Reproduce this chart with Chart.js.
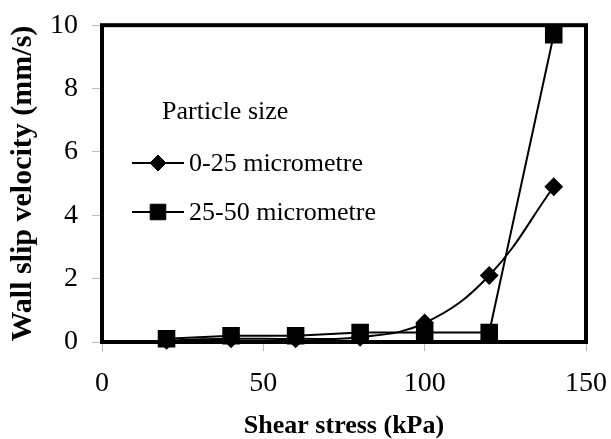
<!DOCTYPE html>
<html>
<head>
<meta charset="utf-8">
<script src="https://cdn.jsdelivr.net/npm/chart.js@4/dist/chart.umd.min.js"></script>
<style>
  html, body { margin: 0; padding: 0; background: #fff; }
  #wrap { width: 611px; height: 439px; }
</style>
</head>
<body>
<div id="wrap"><canvas id="c" width="611" height="439"></canvas></div>
<script>
// Shear stress (kPa) at which wall slip was measured
const shearStress = [20, 40, 60, 80, 100, 120, 140];
// Wall slip velocity (mm/s) for each particle size fraction
const slipFine   = [0.05, 0.1, 0.1, 0.15, 0.6, 2.1, 4.9];   // 0-25 micrometre
const slipCoarse = [0.1, 0.2, 0.2, 0.3, 0.3, 0.3, 9.7];     // 25-50 micrometre
const seriesLabels = ['0-25 micrometre', '25-50 micrometre'];
const legendTitle = 'Particle size';
const xTicks = [0, 50, 100, 150];
const yTicks = [0, 2, 4, 6, 8, 10];

const SERIF = '"Liberation Serif", "Times New Roman", serif';

const toPoints = (xs, ys) => xs.map((x, i) => ({ x, y: ys[i] }));

// Thick black box around the plotting area
const frame = {
  id: 'frame',
  beforeDatasetsDraw(chart) {
    const { ctx, chartArea: a } = chart;
    ctx.save();
    ctx.strokeStyle = '#000';
    ctx.lineWidth = 4;
    ctx.strokeRect(a.left, a.top, a.right - a.left, a.bottom - a.top);
    ctx.restore();
  }
};

// Legend drawn inside the plot, with a heading line
const innerLegend = {
  id: 'innerLegend',
  afterDatasetsDraw(chart) {
    const { ctx } = chart;
    ctx.save();
    ctx.fillStyle = '#000';
    ctx.textBaseline = 'middle';
    ctx.font = '26px ' + SERIF;
    ctx.fillText(legendTitle, 162, 112);
    const rows = [163, 212];
    chart.data.datasets.forEach((ds, i) => {
      const y = rows[i];
      ctx.strokeStyle = ds.borderColor;
      ctx.lineWidth = ds.borderWidth;
      ctx.beginPath();
      ctx.moveTo(132, y);
      ctx.lineTo(184, y);
      ctx.stroke();
      ctx.fillStyle = ds.pointBackgroundColor;
      ctx.lineWidth = 1;
      Chart.helpers.drawPoint(ctx, {
        pointStyle: ds.pointStyle,
        radius: ds.pointRadius,
        borderWidth: 1,
        rotation: 0
      }, 158, y);
      ctx.fillStyle = '#000';
      ctx.fillText(ds.label, 189, y + 1);
    });
    ctx.restore();
  }
};

new Chart(document.getElementById('c'), {
  type: 'line',
  data: {
    datasets: [
      {
        label: seriesLabels[0],
        data: toPoints(shearStress, slipFine),
        borderColor: '#000',
        backgroundColor: '#000',
        pointBackgroundColor: '#000',
        pointBorderColor: '#000',
        borderWidth: 2,
        pointStyle: 'rectRot',
        pointRadius: 8,
        tension: 0.4,
        fill: false
      },
      {
        label: seriesLabels[1],
        data: toPoints(shearStress, slipCoarse),
        borderColor: '#000',
        backgroundColor: '#000',
        pointBackgroundColor: '#000',
        pointBorderColor: '#000',
        borderWidth: 2,
        pointStyle: 'rect',
        pointRadius: 11,
        tension: 0,
        fill: false
      }
    ]
  },
  options: {
    responsive: false,
    animation: false,
    clip: false,
    layout: { padding: { top: 20, right: 22, left: 0, bottom: 0 } },
    plugins: {
      legend: { display: false },
      tooltip: { enabled: false }
    },
    scales: {
      x: {
        type: 'linear',
        min: 0,
        max: 150,
        afterBuildTicks(scale) { scale.ticks = xTicks.map(v => ({ value: v })); },
        afterFit(scale) { scale.height = 97; },
        ticks: {
          color: '#000',
          font: { family: SERIF, size: 28, lineHeight: 2.05 },
          padding: 4
        },
        grid: {
          drawOnChartArea: false,
          drawTicks: true,
          tickLength: 9,
          color: '#bbb',
          lineWidth: 1
        },
        border: { display: false },
        title: {
          display: true,
          text: 'Shear stress (kPa)',
          color: '#000',
          font: { family: SERIF, size: 26, weight: 'bold', lineHeight: 1 },
          padding: { top: 0, bottom: 0 }
        }
      },
      y: {
        min: 0,
        max: 10,
        afterBuildTicks(scale) { scale.ticks = yTicks.map(v => ({ value: v })); },
        afterFit(scale) { scale.width = 102; },
        ticks: {
          color: '#000',
          font: { family: SERIF, size: 28, lineHeight: 0.8 },
          padding: 14
        },
        grid: {
          drawOnChartArea: false,
          drawTicks: true,
          tickLength: 10,
          color: '#bbb',
          lineWidth: 1
        },
        border: { display: false },
        title: {
          display: true,
          text: 'Wall slip velocity (mm/s)',
          color: '#000',
          font: { family: SERIF, size: 30, weight: 'bold', lineHeight: 1 },
          padding: { top: 8, bottom: 0 }
        }
      }
    }
  },
  plugins: [frame, innerLegend]
});
</script>
</body>
</html>
